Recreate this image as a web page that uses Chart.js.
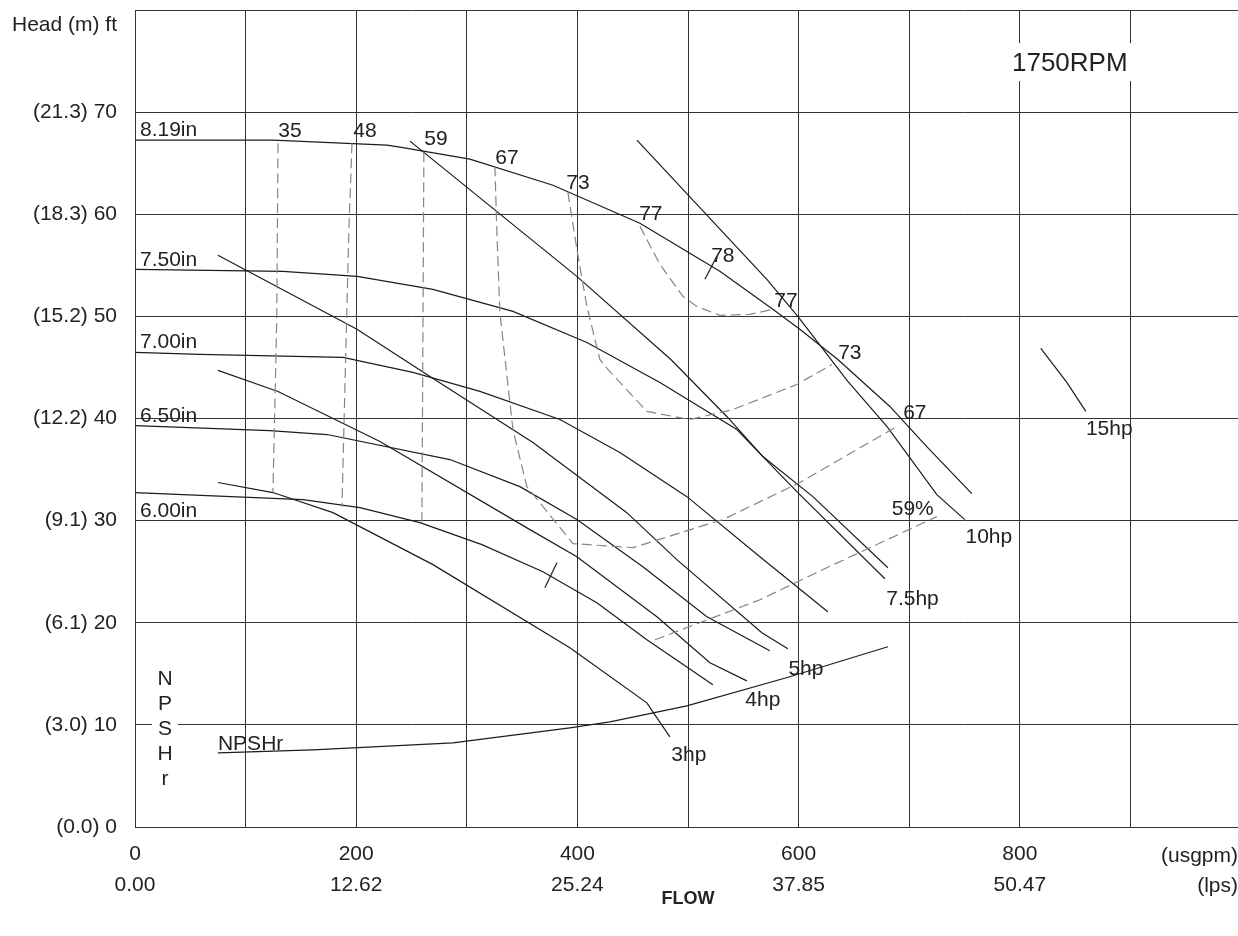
<!DOCTYPE html>
<html>
<head>
<meta charset="utf-8">
<title>Curva 1750RPM</title>
<script src="https://cdn.jsdelivr.net/npm/chart.js@4/dist/chart.umd.min.js"></script>
<style>
  html, body { margin: 0; padding: 0; background: #fff; overflow: hidden; }
  #wrap { width: 1245px; height: 936px; }
</style>
</head>
<body>
<div id="wrap"><canvas id="bomba" width="1245" height="936"></canvas></div>
<script>
// ejes
const flowGpm = [0, 200, 400, 600, 800];
const flowLps = ["0.00", "12.62", "25.24", "37.85", "50.47"];
const headFt = [0, 10, 20, 30, 40, 50, 60, 70];
const headM = ["0.0", "3.0", "6.1", "9.1", "12.2", "15.2", "18.3", "21.3"];

// curvas de impulsor [usgpm, ft]
const imp819 = [[0, 67.25], [124.7, 67.25], [227.8, 66.76], [239.5, 66.57], [302.8, 65.39], [377.9, 62.84], [456.5, 59.12], [528.8, 54.41], [576.7, 50.69], [601.1, 48.73], [635.5, 45.78], [682.5, 41.18], [715.9, 37.25], [756.6, 32.65]];
const imp750 = [[0, 54.61], [133.8, 54.41], [200.9, 53.92], [269.4, 52.65], [341.7, 50.49], [408.6, 47.45], [474.6, 43.53], [544.2, 38.92], [567.7, 36.27], [612.9, 32.35], [680.7, 25.39]];
const imp700 = [[0, 46.47], [58.8, 46.27], [188, 45.98], [251.3, 44.51], [311.9, 42.65], [384.2, 39.9], [438.4, 36.67], [499, 32.35], [565, 26.47], [626.4, 21.08]];
const imp650 = [[0, 39.31], [122, 38.82], [173.6, 38.43], [284.7, 35.98], [348, 33.33], [399.5, 30.1], [459.2, 25.49], [517.1, 20.59], [574, 17.25]];
const imp600 = [[0, 32.75], [151.9, 32.06], [203.4, 31.27], [257.6, 29.8], [313.7, 27.65], [368.8, 25.0], [417.6, 21.96], [462.8, 18.33], [522.5, 13.92]];

// potencia
const hp3 = [[75, 33.73], [124.7, 32.75], [179, 30.78], [269.4, 25.69], [393.2, 17.55], [462.8, 12.16], [483.6, 8.82]];
const hp4 = [[75, 44.71], [129.3, 42.65], [221.5, 37.75], [357.1, 29.12], [399.5, 26.47], [471.9, 20.59], [519.8, 16.08], [553.2, 14.31]];
const hp5 = [[75, 55.98], [200.7, 48.73], [266.7, 44.12], [359.8, 37.65], [444.7, 30.78], [489.9, 26.18], [566.8, 19.02], [590.3, 17.45]];
const hp75 = [[248.6, 67.16], [399.5, 53.92], [484.5, 45.78], [535.1, 40.2], [567.7, 36.27], [598.4, 32.84], [678, 24.31]];
const hp10 = [[453.8, 67.25], [571.3, 53.63], [599.3, 50.0], [644.5, 43.63], [679.8, 39.22], [725, 32.55], [750.3, 30.1]];
const hp15 = [[819, 46.86], [842.5, 43.53], [859.7, 40.69]];
const npshr = [[75, 7.25], [160.9, 7.55], [287.5, 8.24], [393.2, 9.71], [429.4, 10.29], [499, 11.86], [592.1, 14.71], [680.7, 17.65]];

// eficiencia (discontinuas)
const eff35 = [[129.3, 66.96], [128.2, 50.0], [124.7, 32.75]];
const eff48 = [[196.2, 66.96], [193.4, 58.53], [187.1, 31.37]];
const eff59 = [[261.2, 66.08], [259.4, 29.8]];
const eff67 = [[325.4, 64.7], [327.2, 58.24], [329.9, 50.39], [341.7, 38.92], [354.3, 33.33], [395.9, 27.75], [450.2, 27.35], [510.7, 29.41], [531.5, 30.1], [601.1, 33.73], [688.8, 39.22]];
const eff73 = [[391.4, 62.16], [399.5, 56.57], [408.6, 50.98], [420.3, 45.78], [427.6, 44.8], [462.8, 40.69], [501.7, 39.9], [540.6, 40.88], [598.4, 43.33], [630.1, 45.29]];
const eff77 = [[456.5, 58.82], [474.6, 55.1], [495.4, 51.96], [508, 50.98], [528.8, 50.1], [555.9, 50.2], [576.7, 50.69]];
const eff59b = [[470.1, 18.33], [565, 22.25], [625.5, 25.39], [725, 30.39]];
const eff78 = [[515.3, 53.63], [526.1, 55.88]];
const marca = [[370.6, 23.43], [381.5, 25.88]];

// textos [texto, usgpm, ft]
const impLabels = [["8.19in", 4.5, 68.4], ["7.50in", 4.5, 55.7], ["7.00in", 4.5, 47.65], ["6.50in", 4.5, 40.4], ["6.00in", 4.5, 31.08]];
const effLabels = [["35", 140.1, 68.33], ["48", 207.9, 68.33], ["59", 272.1, 67.55], ["67", 336.3, 65.7], ["73", 400.5, 63.24], ["77", 466.4, 60.2], ["78", 531.5, 56.08], ["77", 588.5, 51.67], ["73", 646.3, 46.57], ["67", 705.1, 40.69], ["59%", 703.2, 31.3]];
const hpLabels = [["15hp", 880.9, 39.12], ["10hp", 772, 28.53], ["7.5hp", 703, 22.55], ["5hp", 606.6, 15.69], ["4hp", 567.7, 12.65], ["3hp", 500.8, 7.25]];
const npshLabel = ["NPSHr", 75, 8.33];
const npshLetters = ["N", "P", "S", "H", "r"];
const rpmLabel = ["1750RPM", 845.2, 74.9];

const FONT = '"Liberation Sans", Arial, sans-serif';
Chart.defaults.font.family = FONT;

function linea(datos, discontinua) {
  return {
    data: datos.map((p) => ({ x: p[0], y: p[1] })),
    showLine: true,
    pointRadius: 0,
    borderColor: discontinua ? "#858585" : "#1c1c1c",
    borderWidth: 1.2,
    borderDash: discontinua ? [10, 5] : [],
    tension: 0,
    fill: false,
  };
}

const textos = {
  id: "textos",
  afterDatasetsDraw(chart) {
    const { ctx, scales: { x, y }, chartArea } = chart;
    const px = (v) => x.getPixelForValue(v);
    const py = (v) => y.getPixelForValue(v) + 2; // middle baseline sits a bit high
    ctx.save();
    ctx.fillStyle = "#222";
    ctx.textBaseline = "middle";
    ctx.font = "21px " + FONT;

    ctx.textAlign = "left";
    impLabels.forEach((l) => ctx.fillText(l[0], px(l[1]), py(l[2])));
    ctx.fillText(npshLabel[0], px(npshLabel[1]), py(npshLabel[2]));

    ctx.textAlign = "center";
    effLabels.forEach((l) => ctx.fillText(l[0], px(l[1]), py(l[2])));
    hpLabels.forEach((l) => ctx.fillText(l[0], px(l[1]), py(l[2])));

    // NPSHr vertical
    const lx = px(27.1);
    let ly = py(14.71);
    npshLetters.forEach((c) => {
      ctx.fillStyle = "#fff";
      ctx.fillRect(lx - 13, ly - 10, 26, 19);
      ctx.fillStyle = "#222";
      ctx.fillText(c, lx, ly);
      ly += 25;
    });

    // 1750RPM
    ctx.font = "26px " + FONT;
    const rx = px(rpmLabel[1]);
    const ry = py(rpmLabel[2]);
    const w = ctx.measureText(rpmLabel[0]).width;
    ctx.fillStyle = "#fff";
    ctx.fillRect(rx - w / 2 - 4, ry - 21, w + 8, 38);
    ctx.fillStyle = "#222";
    ctx.fillText(rpmLabel[0], rx, ry);

    // titulos de ejes
    ctx.font = "21px " + FONT;
    ctx.textAlign = "right";
    ctx.fillText("Head (m) ft", chartArea.left - 18, chartArea.top + 15);
    ctx.fillText("(usgpm)", 1238, chartArea.bottom + 29);
    ctx.fillText("(lps)", 1238, chartArea.bottom + 59);
    ctx.textAlign = "center";
    ctx.font = "bold 18px " + FONT;
    ctx.fillText("FLOW", (chartArea.left + chartArea.right) / 2, 899);
    ctx.restore();
  },
};

function dibujarCurva() {
  const series = [imp819, imp750, imp700, imp650, imp600, hp3, hp4, hp5, hp75, hp10, hp15, npshr, eff78, marca];
  const discontinuas = [eff35, eff48, eff59, eff67, eff73, eff77, eff59b];

  new Chart(document.getElementById("bomba"), {
    type: "scatter",
    data: {
      datasets: [...discontinuas.map((d) => linea(d, true)), ...series.map((d) => linea(d, false))],
    },
    options: {
      responsive: false,
      animation: false,
      layout: { padding: { top: 10, right: 4, left: 0, bottom: 0 } },
      plugins: { legend: { display: false }, tooltip: { enabled: false } },
      scales: {
        x: {
          type: "linear",
          min: 0,
          max: 1000,
          grid: { color: "#333", lineWidth: 1, drawTicks: false },
          border: { color: "#333" },
          ticks: {
            stepSize: 100,
            autoSkip: false,
            maxRotation: 0,
            padding: 12,
            color: "#222",
            font: { size: 21, lineHeight: 1.48 },
            callback: (v) => {
              const i = flowGpm.indexOf(v);
              return i >= 0 ? [String(v), flowLps[i]] : "";
            },
          },
          afterFit: (s) => {
            s.height = 109;
            s.paddingLeft = 0;
            s.paddingRight = 0;
          },
        },
        y: {
          type: "linear",
          min: 0,
          max: 80,
          grid: { color: "#333", lineWidth: 1, drawTicks: false },
          border: { color: "#333" },
          ticks: {
            stepSize: 10,
            padding: 18,
            color: "#222",
            font: { size: 21 },
            callback: (v) => {
              const i = headFt.indexOf(v);
              return i >= 0 ? "(" + headM[i] + ") " + v : "";
            },
          },
          afterFit: (s) => {
            s.width = 135;
            s.paddingTop = 0;
            s.paddingBottom = 0;
          },
        },
      },
    },
    plugins: [textos],
  });
}

dibujarCurva();
</script>
</body>
</html>
